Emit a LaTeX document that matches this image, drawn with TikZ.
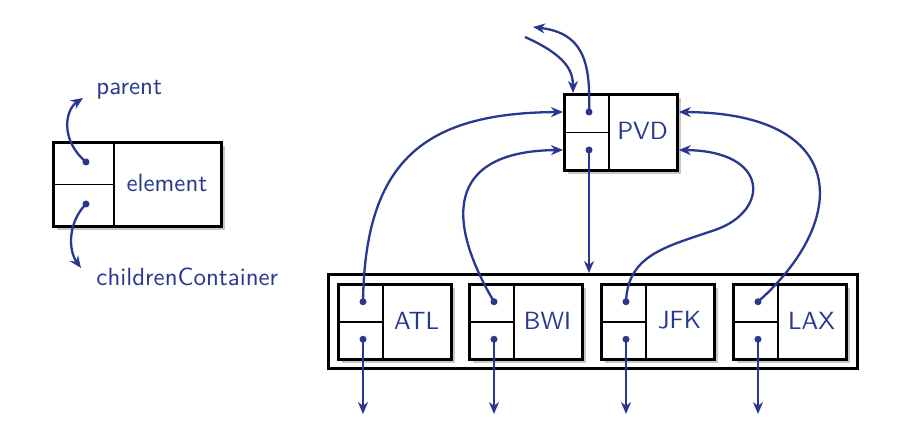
\documentclass[tikz,border=0pt]{standalone}
\usetikzlibrary{arrows.meta,shadows,calc}
\definecolor{dsblue}{RGB}{40,56,145}
\newcommand\record[7]{%
  \node[recbox, minimum width=#4pt, minimum height=#5pt, anchor=north west] (#1) at (#2,#3) {};
  \coordinate (#1-d) at (#2+#6,#3);
  \draw[divline] (#1-d) -- (#1-d |- #1.south);
  \draw[divline] (#1.west) -- (#1-d |- #1.west);
  \node[dot] (#1-p) at (#2+#6/2+3,#3+#5/4) {};
  \node[dot] (#1-c) at (#2+#6/2+3,#3+3*#5/4) {};
  \node[lab] (#1-t) at (#2+#6/2+#4/2,#3+#5/2) {#7};
}
\begin{document}
\begin{tikzpicture}[x=1pt,y=-1pt,
  recbox/.style={draw=black, line width=2.8pt, fill=white, rectangle, inner sep=0pt,
    drop shadow={shadow xshift=4pt, shadow yshift=-4pt, fill=black!22, opacity=1}},
  contbox/.style={draw=black, line width=2.8pt, fill=white, rectangle, inner sep=0pt},
  divline/.style={draw=black, line width=1.7pt},
  dot/.style={circle, fill=dsblue, inner sep=0pt, minimum size=7pt},
  lab/.style={text=dsblue, font=\fontsize{10}{12}\selectfont\sffamily, inner sep=0pt,
    scale=2.49, transform shape},
  link/.style={draw=dsblue, line width=2.3pt, -{Stealth[length=12pt,width=10pt]}}
]
\useasboundingbox (0,0) rectangle (898,430);

% generic element
\record{el}{52}{141}{168}{84}{62}{element}
\node[lab, anchor=base west] (parent) at (96,95) {parent};
\node[lab, anchor=base west] (children) at (96,286) {childrenContainer};
\coordinate (elp) at (83,98);
\coordinate (elc) at (81,268);
\draw[link] (el-p.center) .. controls (60,140) and (65,110) .. (elp);
\draw[link] (el-c.center) .. controls (68,222) and (68,250) .. (elc);

% PVD
\record{pvd}{563}{93}{113}{76}{46}{PVD}

% container
\node[contbox, minimum width=529pt, minimum height=94pt, anchor=north west] (cont) at (327,273) {};
\record{atl}{337}{283}{113}{75}{46}{ATL}
\record{bwi}{468}{283}{113}{75}{46}{BWI}
\record{jfk}{600}{283}{113}{75}{46}{JFK}
\record{lax}{732}{283}{113}{75}{46}{LAX}

% PVD links
\coordinate (pin) at (525,37);
\coordinate (pout) at (533,27);
\draw[link] (pin) .. controls (565,55) and (573,70) .. ($(pvd.north west)+(10,0)$);
\draw[link] (pvd-p.center) .. controls (591,60) and (582,33) .. (pout);
\draw[link] (pvd-c.center) -- (pvd-c |- cont.north);

% children to parent
\draw[link] (atl-p.center) .. controls (365,160) and (425,113) .. (pvd.west |- pvd-p);
\draw[link] (bwi-p.center) .. controls (440,210) and (455,151) .. (pvd.west |- pvd-c);
\draw[link] (jfk-p.center) .. controls (628,255) and (665,247) .. (715,230)
   .. controls (770,211) and (770,151) .. (pvd.east |- pvd-c);
\draw[link] (lax-p.center) .. controls (850,220) and (850,113) .. (pvd.east |- pvd-p);

% children containers
\coordinate (bot) at (0,414);
\foreach \n in {atl,bwi,jfk,lax}{
  \draw[link] (\n-c.center) -- (\n-c |- bot);
}
\end{tikzpicture}
\end{document}
